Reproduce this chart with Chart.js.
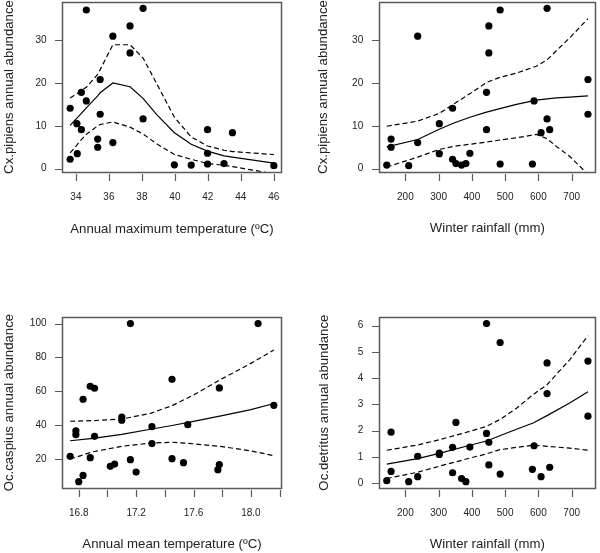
<!DOCTYPE html>
<html>
<head>
<meta charset="utf-8">
<script src="https://cdn.jsdelivr.net/npm/chart.js@4"></script>
<style>
  body { margin: 0; background: #fff; }
  #wrap { position: relative; width: 600px; height: 553px; }
  canvas { position: absolute; left: 0; top: 0; }
</style>
</head>
<body>
<div id="wrap">
  <canvas id="c1" width="600" height="553"></canvas>
  <canvas id="c2" width="600" height="553"></canvas>
  <canvas id="c3" width="600" height="553"></canvas>
  <canvas id="c4" width="600" height="553"></canvas>
</div>
<script>
// panel 1: Cx.pipiens vs annual max temperature
const maxTemp = [33.65, 33.65, 34.06, 34.08, 34.33, 34.33, 34.63, 34.63, 35.47, 35.47, 35.32, 35.32, 36.24, 36.24,
  37.28, 37.28, 38.07, 38.07, 39.97, 40.99, 41.98, 41.98, 41.98, 42.98, 43.49, 46.0];
const cxByTemp = [14.1, 2.2, 10.5, 3.5, 17.8, 9.1, 37.0, 15.8, 20.8, 12.7, 6.9, 5.0, 30.9, 6.1,
  33.3, 27.0, 37.4, 11.6, 0.9, 0.85, 9.1, 3.6, 1.1, 1.2, 8.4, 0.7];
const fitTempX = [33.65, 34.06, 34.33, 34.63, 35.32, 35.47, 36.24, 37.28, 38.07, 38.9, 39.97, 40.99, 41.98, 42.98, 43.49, 46.0];
const fitTempMid = [10.1, 11.8, 12.9, 14.2, 17.0, 17.7, 20.0, 19.1, 16.4, 12.6, 8.4, 5.7, 4.1, 3.0, 2.7, 1.3];
const fitTempUp = [16.5, 17.5, 18.3, 19.0, 22.0, 23.1, 28.9, 28.9, 25.8, 19.8, 12.0, 7.4, 5.3, 4.3, 4.0, 3.3];
const fitTempLo = [3.7, 5.5, 6.8, 8.0, 10.0, 10.3, 10.9, 9.7, 8.1, 5.8, 3.3, 2.2, 1.2, 0.8, 0.5, -1.2];
const xTicks1 = [34, 36, 38, 40, 42, 44, 46];
const xLabels1 = ['34', '36', '38', '40', '42', '44', '46'];
const yTicks1 = [0, 10, 20, 30];
const yLabels1 = ['0', '10', '20', '30'];

// panels 2 and 4 share the winter rainfall values
const winterRain = [144, 157, 157, 210, 237, 237, 302, 302, 342, 342, 352, 369, 382, 394, 444, 444, 451, 451,
  485, 485, 582, 587, 608, 626, 626, 634, 749, 749];
const cxByRain = [0.85, 6.9, 5.0, 0.7, 6.1, 30.9, 10.5, 3.5, 14.1, 2.2, 1.2, 0.85, 1.2, 3.6, 17.8, 9.1, 33.3, 27.0,
  37.0, 1.1, 1.1, 15.8, 8.4, 37.4, 11.6, 9.1, 20.8, 12.7];
const fitRainX = [144, 237, 302, 344, 394, 444, 484, 534, 594, 626, 654, 694, 749];
const fitRainMid = [5.1, 6.8, 9.2, 10.6, 12.0, 13.2, 14.0, 15.0, 16.0, 16.3, 16.5, 16.7, 17.0];
const fitRainUp = [9.9, 11.1, 12.9, 15.0, 17.5, 20.1, 21.3, 22.3, 23.9, 25.4, 27.5, 30.5, 35.0];
const fitRainLo = [0.4, 2.7, 4.5, 5.2, 5.7, 6.2, 6.7, 7.2, 8.0, 7.0, 5.2, 2.9, -1.3];
const xTicksRain = [200, 300, 400, 500, 600, 700];
const xLabelsRain = ['200', '300', '400', '500', '600', '700'];

// panel 3: Oc.caspius vs annual mean temperature
const meanTemp = [16.74, 16.78, 16.78, 16.80, 16.83, 16.83, 16.88, 16.91, 16.91, 16.88, 17.02, 17.05, 17.10, 17.10,
  17.16, 17.16, 17.20, 17.31, 17.31, 17.45, 17.45, 17.53, 17.56, 17.78, 17.78, 17.77, 18.05, 18.16];
const ocCaspius = [21.6, 36.7, 34.4, 6.6, 55.3, 10.3, 63.0, 61.8, 33.4, 20.8, 15.7, 17.0, 44.8, 42.9,
  100, 19.6, 12.3, 39.1, 29.1, 67.1, 20.2, 17.8, 40.3, 62.0, 16.7, 13.7, 100, 51.7];
const fitMeanX = [16.74, 16.9, 17.1, 17.3, 17.45, 17.6, 17.8, 18.0, 18.16];
const fitMeanMid = [30.8, 32.2, 34.6, 37.6, 39.8, 42.2, 45.6, 49.2, 52.8];
const fitMeanUp = [42.3, 42.7, 43.6, 47.0, 51.5, 57.8, 67.5, 76.5, 84.4];
const fitMeanLo = [20.0, 24.3, 27.5, 29.4, 29.9, 29.0, 27.3, 24.8, 22.0];
const xTicks3 = [16.8, 17.0, 17.2, 17.4, 17.6, 17.8, 18.0, 18.2];
const xLabels3 = ['16.8', '', '17.2', '', '17.6', '', '18.0', ''];
const yTicks3 = [20, 40, 60, 80, 100];
const yLabels3 = ['20', '40', '60', '80', '100'];

// panel 4: Oc.detritus vs winter rainfall
const ocDetritus = [0.09, 0.44, 1.94, 0.05, 1.02, 0.24, 1.14, 1.09, 1.36, 0.39, 2.31, 0.17, 0.05, 1.37, 6.08, 1.89,
  1.55, 0.69, 5.36, 0.34, 0.52, 1.42, 0.24, 4.58, 3.41, 0.60, 4.65, 2.55];
const fitDetX = [144, 237, 302, 394, 444, 484, 534, 584, 626, 694, 749];
const fitDetMid = [0.72, 0.93, 1.13, 1.44, 1.6, 1.8, 2.05, 2.29, 2.57, 3.05, 3.48];
const fitDetUp = [1.25, 1.45, 1.65, 1.97, 2.16, 2.42, 2.85, 3.37, 3.75, 4.7, 5.62];
const fitDetLo = [0.17, 0.41, 0.64, 0.95, 1.11, 1.27, 1.36, 1.44, 1.40, 1.33, 1.25];
const yTicks4 = [0, 1, 2, 3, 4, 5, 6];
const yLabels4 = ['0', '1', '2', '3', '4', '5', '6'];

Chart.defaults.font.family = "'Liberation Sans', Arial, sans-serif";
Chart.defaults.color = '#222';

const TITLE_SIZE = 13.2;
const HALF_TITLE = TITLE_SIZE * 1.2 / 2;
const TICK_LEN = 7;
const AXIS_GREY = '#5a5a5a';

function pts(xs, ys) {
  return xs.map((x, i) => ({ x: x, y: ys[i] }));
}

// R pads the data range by 4% on each side
function rRange(arr) {
  const lo = Math.min(...arr), hi = Math.max(...arr);
  const d = (hi - lo) * 0.04;
  return [lo - d, hi + d];
}

// R-style box round the plot region plus tick marks (x ticks sit a little below the box)
const boxPlugin = {
  id: 'box',
  afterDraw(chart) {
    const a = chart.chartArea;
    const ctx = chart.ctx;
    const l = Math.round(a.left), t = Math.round(a.top), r = Math.round(a.right), b = Math.round(a.bottom);
    ctx.save();
    ctx.strokeStyle = AXIS_GREY;
    ctx.lineWidth = 1.5;
    ctx.strokeRect(l + 0.5, t + 0.5, r - l - 1, b - t);
    ctx.lineWidth = 1.2;
    ctx.beginPath();
    chart.scales.x.ticks.forEach(tk => {
      const px = Math.round(chart.scales.x.getPixelForValue(tk.value)) + 0.5;
      ctx.moveTo(px, b + 2);
      ctx.lineTo(px, b + 2 + TICK_LEN);
    });
    chart.scales.y.ticks.forEach(tk => {
      const py = Math.round(chart.scales.y.getPixelForValue(tk.value)) + 0.5;
      ctx.moveTo(l, py);
      ctx.lineTo(l - TICK_LEN, py);
    });
    ctx.stroke();
    ctx.restore();
  }
};

function makePanel(id, p) {
  const xr = rRange(p.x);
  const yr = rRange(p.y);
  const padL = p.yTitleX - HALF_TITLE;
  const axisW = p.area.left - padL;
  const axisH = p.xTitleY - p.area.bottom + HALF_TITLE;

  const lineSet = (ys, dashed) => ({
    data: pts(p.fitX, ys),
    showLine: true,
    pointRadius: 0,
    borderColor: '#000',
    borderWidth: 1.2,
    borderDash: dashed ? [5, 3] : [],
    fill: false
  });

  new Chart(document.getElementById(id), {
    type: 'scatter',
    data: {
      datasets: [
        {
          data: pts(p.x, p.y),
          pointRadius: 3.6,
          pointBackgroundColor: '#000',
          pointBorderWidth: 0,
          showLine: false
        },
        lineSet(p.fitMid, false),
        lineSet(p.fitUp, true),
        lineSet(p.fitLo, true)
      ]
    },
    options: {
      responsive: false,
      animation: false,
      events: [],
      layout: {
        autoPadding: false,
        padding: {
          left: padL,
          top: p.area.top,
          right: 600 - p.area.right,
          bottom: 553 - p.area.bottom - axisH
        }
      },
      plugins: { legend: { display: false }, tooltip: { enabled: false } },
      scales: {
        x: {
          type: 'linear',
          min: xr[0],
          max: xr[1],
          border: { display: false },
          grid: { drawOnChartArea: false, tickLength: TICK_LEN, tickColor: 'rgba(0,0,0,0)' },
          afterBuildTicks: s => { s.ticks = p.xTicks.map(v => ({ value: v })); },
          ticks: {
            font: { size: 10 },
            padding: 12,
            maxRotation: 0,
            autoSkip: false,
            callback: (v, i) => p.xLabels[i]
          },
          title: { display: true, text: p.xTitle, font: { size: TITLE_SIZE }, padding: 0 },
          afterFit: s => {
            s.height = axisH;
            s.paddingLeft = 0; s.paddingRight = 0; s.paddingTop = 0; s.paddingBottom = 0;
          }
        },
        y: {
          type: 'linear',
          min: yr[0],
          max: yr[1],
          border: { display: false },
          grid: { drawOnChartArea: false, tickLength: TICK_LEN, tickColor: 'rgba(0,0,0,0)' },
          afterBuildTicks: s => { s.ticks = p.yTicks.map(v => ({ value: v })); },
          ticks: {
            font: { size: 10 },
            padding: 8.5,
            autoSkip: false,
            callback: (v, i) => p.yLabels[i]
          },
          title: { display: true, text: p.yTitle, font: { size: TITLE_SIZE }, padding: 0 },
          afterFit: s => {
            s.width = axisW;
            s.paddingLeft = 0; s.paddingRight = 0; s.paddingTop = 0; s.paddingBottom = 0;
          }
        }
      }
    },
    plugins: [boxPlugin]
  });
}

makePanel('c1', {
  x: maxTemp, y: cxByTemp,
  fitX: fitTempX, fitMid: fitTempMid, fitUp: fitTempUp, fitLo: fitTempLo,
  xTicks: xTicks1, xLabels: xLabels1, yTicks: yTicks1, yLabels: yLabels1,
  xTitle: 'Annual maximum temperature (ºC)', yTitle: 'Cx.pipiens annual abundance',
  area: { left: 62, top: 2, right: 282, bottom: 172 }, yTitleX: 9, xTitleY: 229.3
});

makePanel('c2', {
  x: winterRain, y: cxByRain,
  fitX: fitRainX, fitMid: fitRainMid, fitUp: fitRainUp, fitLo: fitRainLo,
  xTicks: xTicksRain, xLabels: xLabelsRain, yTicks: yTicks1, yLabels: yLabels1,
  xTitle: 'Winter rainfall (mm)', yTitle: 'Cx.pipiens annual abundance',
  area: { left: 378.7, top: 2, right: 596, bottom: 172 }, yTitleX: 323.5, xTitleY: 228.5
});

makePanel('c3', {
  x: meanTemp, y: ocCaspius,
  fitX: fitMeanX, fitMid: fitMeanMid, fitUp: fitMeanUp, fitLo: fitMeanLo,
  xTicks: xTicks3, xLabels: xLabels3, yTicks: yTicks3, yLabels: yLabels3,
  xTitle: 'Annual mean temperature (ºC)', yTitle: 'Oc.caspius annual abundance',
  area: { left: 62, top: 317.3, right: 282, bottom: 488 }, yTitleX: 9, xTitleY: 544
});

makePanel('c4', {
  x: winterRain, y: ocDetritus,
  fitX: fitDetX, fitMid: fitDetMid, fitUp: fitDetUp, fitLo: fitDetLo,
  xTicks: xTicksRain, xLabels: xLabelsRain, yTicks: yTicks4, yLabels: yLabels4,
  xTitle: 'Winter rainfall (mm)', yTitle: 'Oc.detritus annual abundance',
  area: { left: 378.7, top: 317.3, right: 596, bottom: 488 }, yTitleX: 324, xTitleY: 544
});
</script>
</body>
</html>
